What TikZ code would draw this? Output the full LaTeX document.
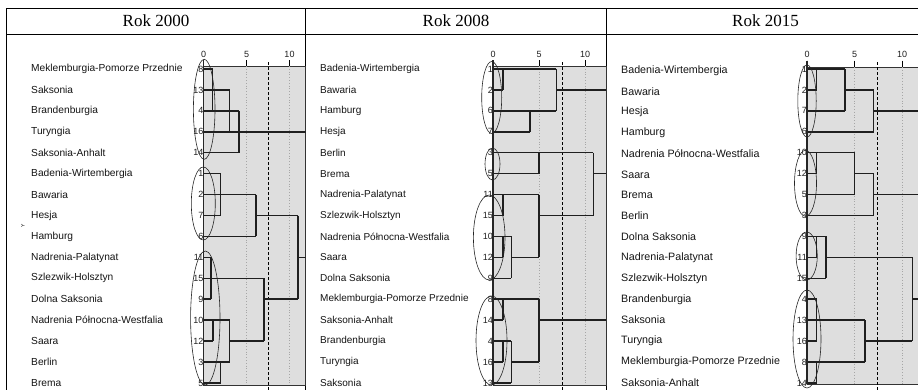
\documentclass[tikz,border=0pt]{standalone}
\usepackage{fontspec}
\setmainfont{Liberation Serif}
\setsansfont{Liberation Sans}
\tikzset{
  lbl/.style={font=\sffamily\fontsize{#1}{#1}\selectfont,anchor=west,inner sep=0pt,text=black!92},
  lbl/.default=10.2,
  leaf/.style={font=\sffamily\fontsize{9}{9}\selectfont,anchor=east,inner sep=0pt,text=black!88},
  tick/.style={font=\sffamily\fontsize{9}{9}\selectfont,inner sep=0pt,text=black!88},
  dendro/.style={line width=1.5pt,draw=black!88},
  plotbox/.style={fill=black!13,draw=black!80,line width=0.7pt},
  gridline/.style={gray!70,dotted,line width=0.8pt},
  cutline/.style={black,dash pattern=on 3pt off 2pt,line width=1pt},
  grp/.style={draw=black!85,line width=0.6pt}
}
\begin{document}
\begin{tikzpicture}[x=1pt,y=-1pt]
    \useasboundingbox (0,0) rectangle (918,389);

    \draw[line width=0.8pt] (6,8) -- (925,8);
    \draw[line width=0.8pt] (6,34) -- (925,34);
    \draw[line width=0.8pt] (6,8) -- (6,392);
    \draw[line width=0.8pt] (305.5,8) -- (305.5,392);
    \draw[line width=0.8pt] (606,8) -- (606,392);

    \draw (156,21) node[font=\fontsize{17}{17}\selectfont] (r2000) {Rok 2000};
    \draw (456,21) node[font=\fontsize{17}{17}\selectfont] (r2008) {Rok 2008};
    \draw (765.5,21) node[font=\fontsize{17}{17}\selectfont] (r2015) {Rok 2015};

    \draw (23,225.5) node[rotate=90,inner sep=0pt,font=\sffamily\fontsize{5}{5}\selectfont] (yax) {Y};

    % Rok 2000
    \begin{scope}[xshift=203.5pt,yshift=-48.07pt,x=8.6pt,y=-20.93pt]
        \filldraw[plotbox] (0,0.857) rectangle (11.86,16.1);
        \draw[gridline] (5,0.857) -- (5,16.1);
        \draw[gridline] (10,0.857) -- (10,16.1);
        \draw[cutline] (7.5,0.67) -- (7.5,16.4);
        \foreach \t in {0,5,10} {
            \draw[line width=0.7pt] (\t,0.57) -- (\t,0.857);
            \draw (\t,0.283) node[tick] {\t};
        }
        \begin{scope}
            \clip (-1,0.5) rectangle (11.86,16.5);
            \foreach \r/\a/\b in {1/0/1.05,2/0/3.05,3/0/4.1,4/0/20,5/0/4.1,
                6/0/2.0,7/0/6.1,8/0/2.0,8/6.1/11.0,9/0/6.1,10/11.0/20,
                10/0/0.9,11/0/7.05,12/0/0.9,12/7.05/11.0,13/0/3.05,14/0/1.1,
                14/3.05/7.05,15/0/3.05,16/0/2.0}
                \draw[dendro] (\a,\r) -- (\b,\r);
            \foreach \x/\a/\b in {1.05/1/3,3.05/2/4,4.1/3/5,2.0/6/8,6.1/7/9,
                11.0/8/12,0.9/10/12,7.05/11/14,1.1/13/14,3.05/13/15,2.0/15/16}
                \draw[dendro] (\x,\a) -- (\x,\b);
        \end{scope}
        \draw[line width=1.8pt,black!85] (0,0.57) -- (0,16.1);
    \end{scope}
    \foreach \r/\n/\txt in {1/8/Meklemburgia-Pomorze Przednie,2/13/Saksonia,
        3/4/Brandenburgia,4/16/Turyngia,5/14/Saksonia-Anhalt,
        6/1/Badenia-Wirtembergia,7/2/Bawaria,8/7/Hesja,9/6/Hamburg,
        10/11/Nadrenia-Palatynat,11/15/Szlezwik-Holsztyn,12/9/Dolna Saksonia,
        13/10/Nadrenia Północna-Westfalia,14/12/Saara,15/3/Berlin,16/5/Brema} {
        \draw (31,{69+(\r-1)*20.93}) node[lbl] (a\r) {\txt};
        \draw (203.5,{69+(\r-1)*20.93}) node[leaf] (la\r) {\n};
    }
    \draw[grp] (204.2,109.3) circle [x radius=10.8, y radius=50];
    \draw[grp] (203.3,203.5) circle [x radius=12, y radius=36.5];
    \draw[grp] (205.3,318) circle [x radius=14.7, y radius=67];

    % Rok 2008
    \begin{scope}[xshift=493pt,yshift=-48.07pt,x=9.2pt,y=-20.93pt]
        \filldraw[plotbox] (0,0.857) rectangle (12.28,16.1);
        \draw[gridline] (5,0.857) -- (5,16.1);
        \draw[gridline] (10,0.857) -- (10,16.1);
        \draw[cutline] (7.6,0.67) -- (7.6,16.4);
        \foreach \t in {0,5,10} {
            \draw[line width=0.7pt] (\t,0.57) -- (\t,0.857);
            \draw (\t,0.283) node[tick] {\t};
        }
        \begin{scope}
            \clip (-1,0.5) rectangle (12.28,16.5);
            \foreach \r/\a/\b in {1/0/6.9,2/0/1.1,2/6.9/20,3/0/6.9,4/0/4.0,
                5/0/10.9,6/0/5.0,6/10.9/20,
                7/0/5.0,8/0/1.1,8/5.0/10.9,9/0/2.0,10/0/1.1,10/2.0/5.0,11/0/2.0,
                12/0/5.0,13/0/1.1,13/5.0/20,14/0/2.0,15/0/1.1,15/2.0/5.0,16/0/2.0}
                \draw[dendro] (\a,\r) -- (\b,\r);
            \foreach \x/\a/\b in {1.1/1/2,6.9/1/3,4.0/3/4,5.0/5/6,10.9/5/8,
                1.1/7/8,5.0/7/10,1.1/9/10,2.0/9/11,
                1.1/12/13,5.0/12/15,1.1/14/15,2.0/14/16}
                \draw[dendro] (\x,\a) -- (\x,\b);
        \end{scope}
        \draw[line width=1.8pt,black!85] (0,0.57) -- (0,16.1);
    \end{scope}
    \foreach \r/\n/\txt in {1/1/Badenia-Wirtembergia,2/2/Bawaria,3/6/Hamburg,
        4/7/Hesja,5/3/Berlin,6/5/Brema,7/11/Nadrenia-Palatynat,
        8/15/Szlezwik-Holsztyn,9/10/Nadrenia Północna-Westfalia,10/12/Saara,
        11/9/Dolna Saksonia,12/8/Meklemburgia-Pomorze Przednie,
        13/14/Saksonia-Anhalt,14/4/Brandenburgia,15/16/Turyngia,16/13/Saksonia} {
        \draw (320,{69+(\r-1)*20.93}) node[lbl=10] (b\r) {\txt};
        \draw (493,{69+(\r-1)*20.93}) node[leaf] (lb\r) {\n};
    }
    \draw[grp] (491.7,97.5) circle [x radius=10, y radius=36];
    \draw[grp] (492.5,164) circle [x radius=7.5, y radius=16];
    \draw[grp] (489.2,237.5) circle [x radius=15.8, y radius=42.5];
    \draw[grp] (491.5,340.5) circle [x radius=15.5, y radius=44.5];

    % Rok 2015
    \begin{scope}[xshift=807pt,yshift=-48.07pt,x=9.5pt,y=-20.93pt]
        \filldraw[plotbox] (0,0.9) rectangle (12.4,16.05);
        \draw[gridline] (5,0.9) -- (5,16.05);
        \draw[gridline] (10,0.9) -- (10,16.05);
        \draw[cutline] (7.4,0.67) -- (7.4,16.4);
        \foreach \t in {0,5,10} {
            \draw[line width=0.7pt] (\t,0.6) -- (\t,0.9);
            \draw (\t,0.3) node[tick] {\t};
        }
        \begin{scope}
            \clip (-1,0.5) rectangle (12.4,16.5);
            \foreach \r/\a/\b in {1/0/4.0,2/0/1.0,2/4.0/7.0,3/0/4.0,3/7.0/20,4/0/7.0,
                5/0/5.0,6/0/1.0,6/5.0/7.0,7/0/5.0,7/7.0/20,8/0/7.0,
                9/0/2.0,10/0/1.0,10/2.0/11.1,11/0/2.0,12/11.1/20,
                12/0/1.0,13/0/6.1,14/0/1.0,14/6.1/11.1,15/0/6.1,16/0/1.0}
                \draw[dendro] (\a,\r) -- (\b,\r);
            \foreach \x/\a/\b in {1.0/1/2,4.0/1/3,7.0/2/4,1.0/5/6,5.0/5/7,7.0/6/8,
                1.0/9/10,2.0/9/11,11.1/10/14,1.0/12/14,6.1/13/15,1.0/15/16}
                \draw[dendro] (\x,\a) -- (\x,\b);
        \end{scope}
        \draw[line width=1.8pt,black!85] (0,0.6) -- (0,16.05);
    \end{scope}
    \foreach \r/\n/\txt in {1/1/Badenia-Wirtembergia,2/2/Bawaria,3/7/Hesja,
        4/6/Hamburg,5/10/Nadrenia Północna-Westfalia,6/12/Saara,7/5/Brema,
        8/3/Berlin,9/9/Dolna Saksonia,10/11/Nadrenia-Palatynat,
        11/15/Szlezwik-Holsztyn,12/4/Brandenburgia,13/13/Saksonia,
        14/16/Turyngia,15/8/Meklemburgia-Pomorze Przednie,16/14/Saksonia-Anhalt} {
        \draw (621,{70.5+(\r-1)*20.8}) node[lbl=10.7] (c\r) {\txt};
        \draw (807,{69+(\r-1)*20.93}) node[leaf] (lc\r) {\n};
    }
    \draw[grp] (807,101) circle [x radius=9.2, y radius=36];
    \draw[grp] (805.5,183.3) circle [x radius=11, y radius=33];
    \draw[grp] (806.7,256) circle [x radius=10.6, y radius=24];
    \draw[grp] (807,339) circle [x radius=14, y radius=49];
\end{tikzpicture}
\end{document}
